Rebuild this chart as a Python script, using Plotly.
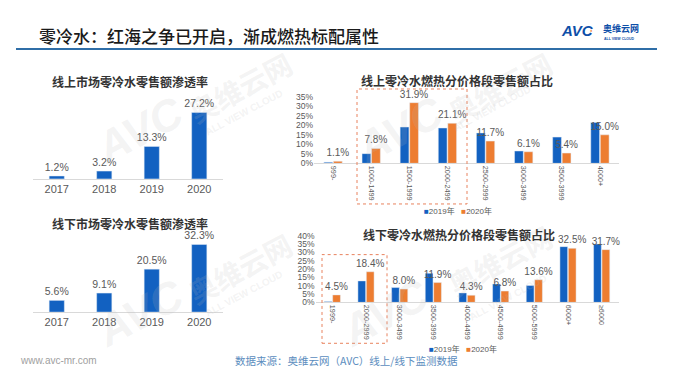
import plotly.graph_objects as go

W, H = 686, 389
OFF = 8  # page body margin offset in the browser

# ---------------- data ----------------
years = ["2017", "2018", "2019", "2020"]
online_pen = [1.2, 3.2, 13.3, 27.2]
offline_pen = [5.6, 9.1, 20.5, 32.3]

online_bands = ["999-", "1000-1499", "1500-1999", "2000-2499", "2500-2999",
                "3000-3499", "3500-3999", "4000+"]
online_2019 = [0.6, 5.1, 19.1, 18.6, 16.0, 6.5, 13.8, 21.5]
online_2020 = [1.1, 7.8, 31.9, 21.1, 11.7, 6.1, 5.4, 15.0]

offline_bands = ["1999-", "2000-2999", "3000-3499", "3500-3999", "4000-4499",
                 "4500-4999", "5000-5999", "6000+", "≥6000"]
offline_2019 = [0.5, 12.9, 8.9, 17.5, 5.7, 11.1, 10.1, 33.5, 35.1]
offline_2020 = [4.5, 18.4, 8.0, 11.9, 4.3, 6.8, 13.6, 32.5, 31.7]

pct_ticks_top = [0, 5, 10, 15, 20, 25, 30, 35]
pct_ticks_bottom = [0, 5, 10, 15, 20, 25, 30, 35, 40]

BLUE = "#1261C1"
ORANGE = "#ED7D31"
GRAY = "#595959"
FONT = "Arial, Liberation Sans, Noto Sans CJK SC, sans-serif"
CJK = "Noto Sans CJK SC, sans-serif"


def fx(x):
    return (x - OFF) / W


def fy(y):
    return 1 - (y - OFF) / H


fig = go.Figure()

lbl_left = dict(size=10.5, color=GRAY, family=FONT)
lbl_right = dict(size=10, color=GRAY, family=FONT)

# ---- left charts ----
fig.add_trace(go.Bar(x=years, y=online_pen, marker_color=BLUE, xaxis="x", yaxis="y", width=0.32,
                     texttemplate="%{y:.1f}%", textposition="outside", cliponaxis=False,
                     constraintext="none", textfont=lbl_left, showlegend=False))
fig.add_trace(go.Bar(x=years, y=offline_pen, marker_color=BLUE, xaxis="x2", yaxis="y2", width=0.32,
                     texttemplate="%{y:.1f}%", textposition="outside", cliponaxis=False,
                     constraintext="none", textfont=lbl_left, showlegend=False))

# ---- right top ----
fig.add_trace(go.Bar(x=online_bands, y=online_2019, marker_color=BLUE, xaxis="x3", yaxis="y3",
                     name="2019年", showlegend=False))
fig.add_trace(go.Bar(x=online_bands, y=online_2020, marker_color=ORANGE, xaxis="x3", yaxis="y3",
                     name="2020年", texttemplate="%{y:.1f}%", textposition="outside",
                     cliponaxis=False, constraintext="none", textfont=lbl_right,
                     showlegend=False))

# ---- right bottom ----
fig.add_trace(go.Bar(x=offline_bands, y=offline_2019, marker_color=BLUE, xaxis="x4", yaxis="y4",
                     name="2019年", showlegend=False))
fig.add_trace(go.Bar(x=offline_bands, y=offline_2020, marker_color=ORANGE, xaxis="x4", yaxis="y4",
                     name="2020年", texttemplate="%{y:.1f}%", textposition="outside",
                     cliponaxis=False, constraintext="none", textfont=lbl_right,
                     showlegend=False))

xcommon = dict(showgrid=False, zeroline=False, showline=True, linecolor="#D9D9D9",
               ticks="", fixedrange=True)
ynone = dict(visible=False, showgrid=False, zeroline=False)
ypct = dict(showgrid=False, zeroline=False, showline=False, ticks="",
            tickfont=dict(size=8.5, color=GRAY, family=FONT))

fig.update_layout(
    width=W, height=H, margin=dict(l=0, r=0, t=0, b=0),
    paper_bgcolor="white", plot_bgcolor="rgba(0,0,0,0)",
    barmode="group", bargap=0.5, bargroupgap=0.08,
    font=dict(family=FONT, color=GRAY),
    xaxis=dict(domain=[fx(33), fx(223)], anchor="y",
               tickfont=dict(size=11, color=GRAY, family=FONT), **xcommon),
    yaxis=dict(domain=[fy(178.3), fy(103)], range=[0, 30], anchor="x", **ynone),
    xaxis2=dict(domain=[fx(33), fx(223)], anchor="y2",
                tickfont=dict(size=11, color=GRAY, family=FONT), **xcommon),
    yaxis2=dict(domain=[fy(315), fy(239.75)], range=[0, 35], anchor="x2", **ynone),
    xaxis3=dict(domain=[fx(314), fx(619)], anchor="y3", tickangle=90,
                tickfont=dict(size=7.3, color=GRAY, family=FONT), **xcommon),
    yaxis3=dict(domain=[fy(162.3), fy(94)], range=[0, 35], anchor="x3",
                tickvals=pct_ticks_top, ticktext=[f"{v}%" for v in pct_ticks_top], **ypct),
    xaxis4=dict(domain=[fx(315.5), fx(618.5)], anchor="y4", tickangle=90,
                tickfont=dict(size=7.3, color=GRAY, family=FONT), **xcommon),
    yaxis4=dict(domain=[fy(305), fy(236.7)], range=[0, 40], anchor="x4",
                tickvals=pct_ticks_bottom, ticktext=[f"{v}%" for v in pct_ticks_bottom], **ypct),
)

ann = []


def text(x, y, t, size, color="#333333", bold=False, family=CJK, xanchor="center", angle=0,
         weight=None):
    if bold:
        t = "<b>" + t + "</b>"
    f = dict(size=size, color=color, family=family)
    if weight:
        f["weight"] = weight
    ann.append(dict(x=fx(x), y=fy(y), xref="paper", yref="paper", text=t, showarrow=False,
                    xanchor=xanchor, yanchor="middle", textangle=angle, font=f))


# watermarks (faint)
WM = "rgba(185,185,185,0.18)"
for (ax, ay, bx, by, cx, cy) in [(140, 128, 240, 84, 244, 110),
                                 (400, 128, 500, 84, 492, 106),
                                 (140, 315, 240, 270, 244, 296),
                                 (385, 315, 500, 262, 508, 300)]:
    text(ax, ay, "<i>AVC</i>", 44, WM, True, "Arial, Liberation Sans", angle=-28)
    text(bx, by, "奥维云网", 28, WM, True, CJK, angle=-28)
    text(cx, cy, "ALL VIEW CLOUD", 10, WM, True, "Arial, Liberation Sans", angle=-28)

# header
text(37, 31.5, "零冷水：红海之争已开启，渐成燃热标配属性", 17, "#1a1a1a", False, CJK, "left",
     weight=500)
text(559, 26, "<i>AVC</i>", 15, "#0E4FA8", True, "Arial, Liberation Sans", "left")
text(601, 23.5, "奥维云网", 9, "#0E4FA8", True, CJK, "left")
text(602, 34.5, "ALL VIEW CLOUD", 3.5, "#0E4FA8", True, "Arial, Liberation Sans", "left")
ann.append(dict(x=fx(595), y=fy(21), xref="paper", yref="paper", text="●", showarrow=False,
                font=dict(size=4, color=ORANGE)))

# chart titles
text(130, 78, "线上市场零冷水零售额渗透率", 12, "#333333", True)
text(130, 224.5, "线下市场零冷水零售额渗透率", 12, "#333333", True)
text(457, 77, "线上零冷水燃热分价格段零售额占比", 12, "#333333", True)
text(459, 235, "线下零冷水燃热分价格段零售额占比", 12, "#333333", True)

# legends
leg = ("<span style='color:%s'>■</span>2019年&nbsp;&nbsp;&nbsp;"
       "<span style='color:%s'>■</span>2020年") % (BLUE, ORANGE)
text(458, 211, leg, 8, GRAY, False, FONT)
text(463, 352.5, leg, 8, GRAY, False, FONT)

# footer
text(18, 365, "www.avc-mr.com", 10, "#A0A0A0", False, FONT, "left")
text(233, 365, "数据来源：奥维云网（AVC）线上/线下监测数据", 10.5, "#5B8DBE", False, CJK, "left")

fig.update_layout(annotations=ann)

# shapes: header line and dashed boxes
fig.add_shape(type="line", xref="paper", yref="paper", x0=fx(16), x1=fx(657), y0=fy(45), y1=fy(45),
              line=dict(color="#2F6EA7", width=2))
fig.add_shape(type="rect", xref="paper", yref="paper", x0=fx(357), x1=fx(467), y0=fy(204), y1=fy(86),
              line=dict(color="#E8825E", width=1, dash="dot"))
fig.add_shape(type="rect", xref="paper", yref="paper", x0=fx(322), x1=fx(387), y0=fy(347), y1=fy(256),
              line=dict(color="#E8825E", width=1, dash="dot"))

fig.write_html("out.html")
